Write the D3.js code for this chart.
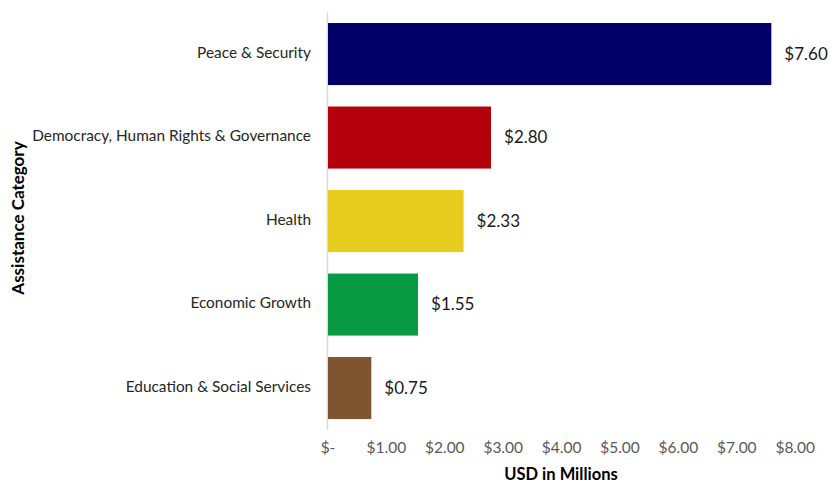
<!DOCTYPE html>
<html>
<head>
<meta charset="utf-8">
<script src="https://cdn.jsdelivr.net/npm/d3@7"></script>
<style>
  body { margin: 0; background: #fff; }
  text { font-family: Lato, "Open Sans", sans-serif; }
</style>
</head>
<body>
<div id="chart-container"></div>
<script>
// chart data
const categories = ["Peace & Security", "Democracy, Human Rights & Governance", "Health", "Economic Growth", "Education & Social Services"];
const values = [7.60, 2.80, 2.33, 1.55, 0.75];
const barColors = ["#000066", "#B4000C", "#E8CC1D", "#089A43", "#7E552E"];
const tickValues = [0, 1, 2, 3, 4, 5, 6, 7, 8];

const svgWidth = 831;
const svgHeight = 484;

const svg = d3.select("#chart-container")
    .append("svg")
    .attr("width", svgWidth)
    .attr("height", svgHeight);

const x = d3.scaleLinear()
    .domain([0, 8])
    .range([327.5, 794.7]);

const y = d3.scaleBand()
    .domain(categories)
    .range([12.3, 429.8])
    .paddingInner(0.257)
    .paddingOuter(0.1285);

// money format like excel accounting, zero shows as "$-"
function money(v) {
    if (v == 0) return "$-";
    return "$" + d3.format(".2f")(v);
}

// vertical axis line
svg.append("line")
    .attr("x1", x(0))
    .attr("x2", x(0))
    .attr("y1", y.range()[0])
    .attr("y2", y.range()[1])
    .attr("stroke", "#d9d9d9")
    .attr("stroke-width", 1.5);

// bars
svg.selectAll(".bar")
    .data(categories)
    .enter()
    .append("rect")
    .attr("class", "bar")
    .attr("x", x(0) + 0.5)
    .attr("y", d => y(d))
    .attr("width", (d, i) => x(values[i]) - x(0) - 0.5)
    .attr("height", y.bandwidth())
    .attr("fill", (d, i) => barColors[i]);

// value labels
svg.selectAll(".barLabel")
    .data(categories)
    .enter()
    .append("text")
    .attr("class", "barLabel")
    .text((d, i) => money(values[i]))
    .attr("x", (d, i) => x(values[i]) + 13)
    .attr("y", d => y(d) + y.bandwidth() / 2)
    .attr("dy", "0.33em")
    .attr("font-size", 17)
    .attr("fill", "#1a1a1a");

// category labels
svg.selectAll(".catLabel")
    .data(categories)
    .enter()
    .append("text")
    .attr("class", "catLabel")
    .text(d => d)
    .attr("x", 311)
    .attr("y", d => y(d) + y.bandwidth() / 2 - 1.5)
    .attr("dy", "0.35em")
    .attr("text-anchor", "end")
    .attr("font-size", 15.4)
    .attr("fill", "#262626");

// x axis tick labels, no line
const xAxis = svg.append("g")
    .attr("class", "axis axis-x")
    .attr("transform", "translate(0, 440)")
    .call(d3.axisBottom(x).tickValues(tickValues).tickFormat(money).tickSize(0).tickPadding(0));
xAxis.select(".domain").remove();
xAxis.selectAll("text")
    .attr("font-family", "Lato, 'Open Sans', sans-serif")
    .attr("font-size", 15.5)
    .attr("fill", "#595959")
    .attr("dy", "0.85em");

// axis titles
svg.append("text")
    .text("USD in Millions")
    .attr("x", 561)
    .attr("y", 474)
    .attr("dy", "0.35em")
    .attr("text-anchor", "middle")
    .attr("font-weight", "bold")
    .attr("font-size", 16.5)
    .attr("fill", "#000");

svg.append("text")
    .text("Assistance Category")
    .attr("transform", `translate(18, 218) rotate(-90)`)
    .attr("dy", "0.35em")
    .attr("text-anchor", "middle")
    .attr("font-weight", "bold")
    .attr("font-size", 17)
    .attr("fill", "#000");
</script>
</body>
</html>
